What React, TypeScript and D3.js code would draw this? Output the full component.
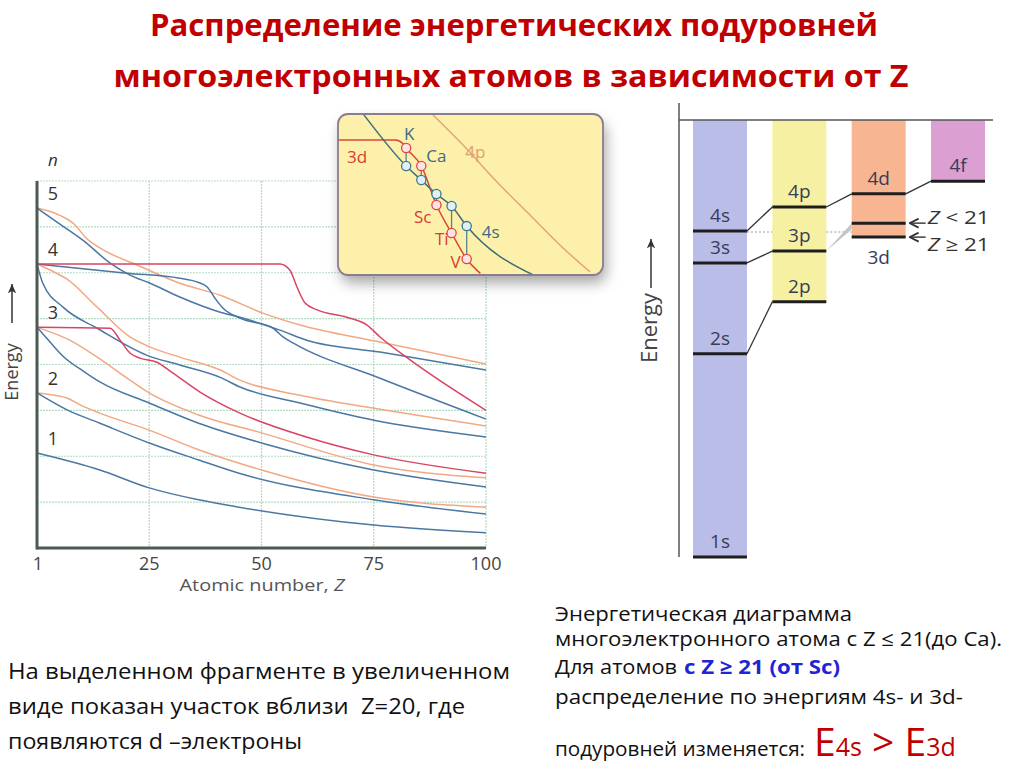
import * as d3 from "d3";

type Pt = [number, number];

// left chart: orbital energies vs atomic number (energy in grid units, 0..8)
const orb1s: Pt[] = [[0, 2.07], [14, 1.7], [25, 1.31], [36, 1.05], [45, 0.89], [75, 0.5], [100, 0.33]];
const orb2s: Pt[] = [[0, 3.38], [6.7, 3.01], [14, 2.72], [25, 2.29], [36, 1.92], [45, 1.63], [75, 1.05], [100, 0.74]];
const orb2p: Pt[] = [[0, 3.38], [4, 3.33], [6.7, 3.27], [9.6, 3.12], [14, 2.94], [25, 2.57], [36, 2.14], [50, 1.7], [75, 1.11], [100, 0.89]];
const orb3s: Pt[] = [[0, 4.81], [2.9, 4.49], [5.8, 4.18], [10.7, 3.83], [14, 3.62], [25, 3.16], [36, 2.72], [50, 2.29], [75, 1.7], [100, 1.33]];
const orb3p: Pt[] = [[0, 4.81], [7.3, 4.53], [13.4, 4.16], [20.7, 3.66], [25, 3.38], [36, 2.9], [50, 2.51], [75, 1.81], [100, 1.53]];
const orb3d: Pt[] = [[0, 4.81], [16.3, 4.79], [18.5, 4.53], [20.7, 4.25], [22.9, 4.14], [26.7, 4.05], [30.3, 3.81], [36.3, 3.4], [45.2, 2.94], [60, 2.42], [75, 2.03], [100, 1.63]];
const orb4s: Pt[] = [[0, 6.19], [1.3, 5.77], [5.8, 5.25], [13.4, 4.79], [24.5, 4.2], [31.8, 3.99], [40.8, 3.72], [45.2, 3.51], [58.6, 3.16], [74.8, 2.79], [100, 2.42]];
const orb4p: Pt[] = [[0, 6.19], [2.9, 6.06], [6.7, 5.86], [13.4, 5.25], [20.7, 4.6], [25.2, 4.38], [31.8, 4.16], [40.8, 3.88], [45.2, 3.66], [58.6, 3.33], [74.8, 3.05], [100, 2.66]];
const orb4d: Pt[] = [[0, 6.19], [20, 5.99], [31.8, 5.88], [35.6, 5.8], [37.9, 5.69], [39.6, 5.45], [41.4, 5.23], [45.2, 5.01], [52.6, 4.79], [54.8, 4.6], [57, 4.47], [76.4, 3.7], [100, 2.81]];
const orb4f: Pt[] = [[0, 6.19], [54.1, 6.19], [56.3, 6.06], [57.9, 5.69], [59.7, 5.34], [62.4, 5.19], [69, 5.03], [73.5, 4.86], [76.4, 4.6], [83.1, 4.1], [100, 3.0]];
const orb5s: Pt[] = [[0, 7.41], [5.1, 7.06], [10.2, 6.71], [16.3, 6.21], [20.7, 5.95], [25.2, 5.77], [31.8, 5.47], [40.8, 5.14], [45.2, 5.03], [54.1, 4.75], [60.1, 4.53], [76.4, 4.27], [100, 3.88]];
const orb5p: Pt[] = [[0, 7.41], [5.1, 7.25], [8.5, 7.04], [10.7, 6.78], [14, 6.54], [22.3, 6.17], [31.8, 5.77], [40.8, 5.51], [50.3, 5.12], [58.6, 4.86], [76.4, 4.49], [100, 4.01]];

const zTicks = [0, 25, 50, 75, 100];
const zTickLabels = ["1", "25", "50", "75", "100"];
const shellLabels = ["1", "2", "3", "4", "5"];
const shellStartE = [2.07, 3.38, 4.81, 6.19, 7.41];

// inset: zoom near Z = 20
const insetElements = ["K", "Ca", "Sc", "Ti", "V"];
const insetZ = [19, 20, 21, 22, 23];
const inset4sE = [6.73, 5.86, 5.0, 4.26, 3.02];
const inset3dE = [7.84, 6.73, 4.32, 2.59, 0.99];
const inset3dCurve: Pt[] = [[14.5, 8.33], [18.3, 8.33], [18.8, 8.1], [19, 7.84], [20, 6.73], [21, 4.32], [22, 2.59], [23, 0.99], [23.9, 0.1]];
const inset4sCurve: Pt[] = [[16.2, 9.9], [19, 6.73], [20, 5.86], [21, 5.0], [22, 4.26], [23, 3.02], [27.4, 0]];
const inset4pCurve: Pt[] = [[20.77, 9.88], [22.76, 8.02], [25.0, 5.74], [27.18, 3.7], [29.36, 1.67], [31.14, 0.19]];

// right: level diagram (energy 0..100)
const subshells = ["s", "p", "d", "f"];
const subshellColors = ["#b9bde7", "#f6f1a2", "#f8b591", "#dc9fd1"];
const levelLabels = ["1s", "2s", "3s", "4s", "2p", "3p", "4p", "3d", "3d", "4d", "4f"];
const levelCols = ["s", "s", "s", "s", "p", "p", "p", "d", "d", "d", "f"];
const levelE = [0, 46.5, 67.3, 74.6, 58.4, 70.0, 80.1, 76.4, 73.2, 83.1, 86.0];

const BLUE = "#4a77a3";
const ORANGE = "#f2a883";
const RED = "#d94464";

const sans = "'Open Sans', 'DejaVu Sans', sans-serif";

export default function App() {
  const x = d3.scaleLinear().domain([0, 100]).range([37, 486]);
  const y = d3.scaleLinear().domain([0, 8]).range([548, 181]);
  const line = d3.line<Pt>().x((d) => x(d[0])).y((d) => y(d[1])).curve(d3.curveMonotoneX);

  const curves: [Pt[], string][] = [
    [orb2p, ORANGE], [orb3p, ORANGE], [orb4p, ORANGE], [orb5p, ORANGE],
    [orb1s, BLUE], [orb2s, BLUE], [orb3s, BLUE], [orb4s, BLUE], [orb5s, BLUE], [orb4d, BLUE],
    [orb3d, RED], [orb4f, RED],
  ];

  const ix = d3.scaleLinear().domain([14.5, 32]).range([338, 603]);
  const iy = d3.scaleLinear().domain([0, 10]).range([275, 113]);
  const iline = d3.line<Pt>().x((d) => ix(d[0])).y((d) => iy(d[1])).curve(d3.curveMonotoneX);

  const col = d3.scaleBand().domain(subshells).range([693, 985]).paddingInner(0.32);
  const bw = col.bandwidth();
  const yE = d3.scaleLinear().domain([0, 100]).range([557, 120]);
  const lev = (label: string, which = 0) => {
    const idx = levelLabels.map((l, i) => (l === label ? i : -1)).filter((i) => i >= 0)[which];
    return { x: col(levelCols[idx])!, y: yE(levelE[idx]) };
  };
  const colBottom = (c: string) =>
    d3.max(levelE.map((e, i) => (levelCols[i] === c ? yE(e) : 0)))!;

  const L2s = lev("2s"), L3s = lev("3s"), L4s = lev("4s");
  const L2p = lev("2p"), L3p = lev("3p"), L4p = lev("4p");
  const L3dU = lev("3d", 0), L3dL = lev("3d", 1), L4d = lev("4d"), L4f = lev("4f");

  return (
    <svg width={1024} height={767} style={{ position: "absolute", left: 0, top: 0, background: "#fff" }}>
      <defs>
        <filter id="shadow" x="-20%" y="-20%" width="140%" height="160%">
          <feDropShadow dx="3" dy="8" stdDeviation="7" floodColor="#000" floodOpacity="0.35" />
        </filter>
        <clipPath id="insetClip">
          <rect x={338} y={114} width={265} height={161} rx={10} />
        </clipPath>
        <marker id="arrowUp" viewBox="0 0 10 10" refX="9" refY="5" markerWidth="7" markerHeight="7" orient="auto">
          <path d="M0,1 L9,5 L0,9 L2.5,5 z" fill="#333" />
        </marker>
        <marker id="chev" viewBox="0 0 10 10" refX="9" refY="5" markerWidth="8" markerHeight="8" orient="auto">
          <path d="M1,1 L9,5 L1,9" fill="none" stroke="#333" strokeWidth="1.6" />
        </marker>
      </defs>

      {/* title */}
      <g fontFamily={sans} fontWeight="bold" fill="#c00000" fontSize={30} textAnchor="middle">
        <text x={514} y={36} textLength={728} lengthAdjust="spacingAndGlyphs">Распределение энергетических подуровней</text>
        <text x={511} y={87} textLength={795} lengthAdjust="spacingAndGlyphs">многоэлектронных атомов в зависимости от Z</text>
      </g>

      {/* left chart grid */}
      <g stroke="#b3dbc4" strokeWidth={1.2} strokeDasharray="2 1">
        {d3.range(1, 9).map((e) => (
          <line key={"h" + e} x1={x(0)} x2={x(100)} y1={y(e)} y2={y(e)} />
        ))}
        {zTicks.slice(1).map((z) => (
          <line key={"v" + z} x1={x(z)} x2={x(z)} y1={y(8)} y2={y(0)} />
        ))}
      </g>
      <g fill="none" strokeWidth={1.5}>
        {curves.map(([pts, c], i) => (
          <path key={i} d={line(pts)!} stroke={c} />
        ))}
      </g>
      <line x1={x(0)} x2={x(0)} y1={y(8)} y2={y(0) + 1.5} stroke="#4d5a52" strokeWidth={3} />
      <line x1={x(0)} x2={x(100)} y1={y(0)} y2={y(0)} stroke="#4d5a52" strokeWidth={3} />
      <g fontFamily={sans} fontSize={18} fill="#444" textAnchor="middle">
        {zTicks.map((z, i) => (
          <text key={z} x={x(z) + (i === 0 ? 1 : 0)} y={570}>{zTickLabels[i]}</text>
        ))}
        <text x={262} y={591} fontSize={17} fill="#555" textLength={165} lengthAdjust="spacingAndGlyphs">
          Atomic number, <tspan fontStyle="italic">Z</tspan>
        </text>
      </g>
      <g fontFamily={sans} fontSize={18} fill="#333" textAnchor="middle">
        {shellLabels.map((s, i) => (
          <text key={s} x={53} y={y(shellStartE[i]) - 8}>{s}</text>
        ))}
        <text x={53} y={166} fontStyle="italic" fontSize={17}>n</text>
      </g>
      <text transform="translate(18,372) rotate(-90)" fontFamily={sans} fontSize={18} fill="#444" textAnchor="middle">Energy</text>
      <line x1={12} x2={12} y1={323} y2={284} stroke="#333" strokeWidth={1.5} markerEnd="url(#arrowUp)" />

      {/* inset */}
      <rect x={338} y={114} width={265} height={161} rx={10} fill="#fdf0aa" filter="url(#shadow)" />
      <g clipPath="url(#insetClip)" fill="none" strokeWidth={1.5}>
        <path d={iline(inset4pCurve)!} stroke="#e3a477" />
        <path d={iline(inset3dCurve)!} stroke="#d8473c" />
        <path d={iline(inset4sCurve)!} stroke="#3e6f7a" />
      </g>
      <rect x={338} y={114} width={265} height={161} rx={10} fill="none" stroke="#8a7d8e" strokeWidth={1.8} />
      <g>
        {insetZ.map((z, i) => (
          <line key={"c" + i} x1={ix(z)} x2={ix(z)} y1={iy(inset4sE[i])} y2={iy(inset3dE[i])} stroke="#4f8694" strokeWidth={1.3} />
        ))}
        {insetZ.map((z, i) => (
          <circle key={"b" + i} cx={ix(z)} cy={iy(inset4sE[i])} r={4.6} fill="#e2f0f4" stroke="#3f7890" strokeWidth={1.3} />
        ))}
        {insetZ.map((z, i) => (
          <circle key={"r" + i} cx={ix(z)} cy={iy(inset3dE[i])} r={4.6} fill="#fde4e4" stroke="#e04646" strokeWidth={1.3} />
        ))}
      </g>
      <g fontFamily={sans} fontSize={17}>
        <text x={ix(insetZ[0]) + 3} y={iy(inset3dE[0]) - 8} fill="#3d6a8a" textAnchor="middle">{insetElements[0]}</text>
        <text x={ix(insetZ[1]) + 5} y={iy(inset3dE[1]) - 4} fill="#3d6a8a">{insetElements[1]}</text>
        <text x={ix(insetZ[2]) - 5} y={iy(inset3dE[2]) + 18} fill="#d63c32" textAnchor="end">{insetElements[2]}</text>
        <text x={ix(insetZ[3]) - 3} y={iy(inset3dE[3]) + 12} fill="#d63c32" textAnchor="end">{insetElements[3]}</text>
        <text x={ix(insetZ[4]) - 6} y={iy(inset3dE[4]) + 9} fill="#d63c32" textAnchor="end">{insetElements[4]}</text>
        <text x={ix(insetZ[4]) + 15} y={iy(inset4sE[4]) + 12} fill="#3d6a8a">4s</text>
        <text x={ix(15.1)} y={iy(inset3dCurve[0][1]) + 23} fill="#d63c32">3d</text>
        <text x={ix(22.9)} y={iy(7.2)} fill="#e0a070">4p</text>
      </g>

      {/* right level diagram */}
      {subshells.map((s, i) => (
        <rect key={s} x={col(s)} y={yE(100)} width={bw} height={colBottom(s) - yE(100)} fill={subshellColors[i]} />
      ))}
      <line x1={679} x2={679} y1={103} y2={557} stroke="#555" strokeWidth={1.5} />
      <line x1={679} x2={993} y1={yE(100)} y2={yE(100)} stroke="#555" strokeWidth={1.5} />
      <g stroke="#9a9a9a" strokeWidth={1.2} strokeDasharray="2 2">
        <line x1={L4s.x + bw} x2={col("p")} y1={L4s.y + 1} y2={L4s.y + 1} />
        <line x1={col("p")! + bw} x2={col("d")} y1={L4s.y + 1} y2={L4s.y + 1} />
      </g>
      <polygon
        points={`${L3p.x + bw},${L3p.y} ${L3dU.x},${L3dU.y} ${L3dU.x},${L3dU.y + 6}`}
        fill="#c4c4c4"
      />
      <g stroke="#333" strokeWidth={1.3}>
        <line x1={L2s.x + bw} y1={L2s.y} x2={L2p.x} y2={L2p.y} />
        <line x1={L3s.x + bw} y1={L3s.y} x2={L3p.x} y2={L3p.y} />
        <line x1={L4s.x + bw} y1={L4s.y} x2={L4p.x} y2={L4p.y} />
        <line x1={L4p.x + bw} y1={L4p.y} x2={L4d.x} y2={L4d.y} />
        <line x1={L4d.x + bw} y1={L4d.y} x2={L4f.x} y2={L4f.y} />
      </g>
      <g stroke="#1e1e1e" strokeWidth={3}>
        {levelE.map((e, i) => (
          <line key={i} x1={col(levelCols[i])} x2={col(levelCols[i])! + bw} y1={yE(e)} y2={yE(e)} />
        ))}
      </g>
      <g fontFamily={sans} fontSize={19} fill="#383c58" textAnchor="middle">
        {levelLabels.map((l, i) =>
          i === 7 ? null : (
            <text key={i} x={col(levelCols[i])! + bw / 2} y={i === 8 ? yE(levelE[i]) + 27 : yE(levelE[i]) - 9}>{l}</text>
          )
        )}
      </g>
      <g stroke="#333" strokeWidth={1.4}>
        <line x1={L3dU.x + bw + 20} x2={L3dU.x + bw + 4} y1={L3dU.y} y2={L3dU.y} markerEnd="url(#chev)" />
        <line x1={L3dL.x + bw + 20} x2={L3dL.x + bw + 4} y1={L3dL.y} y2={L3dL.y} markerEnd="url(#chev)" />
      </g>
      <g fontFamily={sans} fontSize={18} fill="#333">
        <text x={L3dU.x + bw + 22} y={L3dU.y + 1} textLength={62} lengthAdjust="spacingAndGlyphs">
          <tspan fontStyle="italic">Z</tspan> &lt; 21
        </text>
        <text x={L3dL.x + bw + 22} y={L3dL.y + 14} textLength={62} lengthAdjust="spacingAndGlyphs">
          <tspan fontStyle="italic">Z</tspan> ≥ 21
        </text>
      </g>
      <text transform="translate(657,328) rotate(-90)" fontFamily={sans} fontSize={22} fill="#444" textAnchor="middle">Energy</text>
      <line x1={651} x2={651} y1={288} y2={239} stroke="#333" strokeWidth={1.5} markerEnd="url(#arrowUp)" />

      {/* bottom-left text */}
      <g fontFamily={sans} fontSize={21} fill="#111">
        <text x={8} y={679} textLength={502} lengthAdjust="spacingAndGlyphs">На выделенном фрагменте в увеличенном</text>
        <text x={8} y={714} textLength={457} lengthAdjust="spacingAndGlyphs">{"виде показан участок вблизи\u00A0 Z=20, где"}</text>
        <text x={8} y={749} textLength={294} lengthAdjust="spacingAndGlyphs">появляются d –электроны</text>
      </g>

      {/* right text */}
      <g fontFamily={sans} fontSize={20} fill="#111">
        <text x={555} y={621} textLength={297} lengthAdjust="spacingAndGlyphs">Энергетическая диаграмма</text>
        <text x={555} y={646} textLength={447} lengthAdjust="spacingAndGlyphs">многоэлектронного атома с Z ≤ 21(до Ca).</text>
        <text x={555} y={674}>
          <tspan textLength={122} lengthAdjust="spacingAndGlyphs">Для атомов</tspan>
          <tspan x={684} fontWeight="bold" fill="#2323d6" textLength={156} lengthAdjust="spacingAndGlyphs">с Z ≥ 21 (от Sc)</tspan>
        </text>
        <text x={555} y={704} textLength={408} lengthAdjust="spacingAndGlyphs">распределение по энергиям 4s- и 3d-</text>
        <text x={555} y={756}>
          <tspan textLength={250} lengthAdjust="spacingAndGlyphs">подуровней изменяется:</tspan>
          <tspan x={814} fill="#c00000" fontSize={39}>E</tspan>
          <tspan fill="#c00000" fontSize={25}>4s</tspan>
          <tspan fill="#c00000" fontSize={39}>{" > E"}</tspan>
          <tspan fill="#c00000" fontSize={25}>3d</tspan>
        </text>
      </g>
    </svg>
  );
}
